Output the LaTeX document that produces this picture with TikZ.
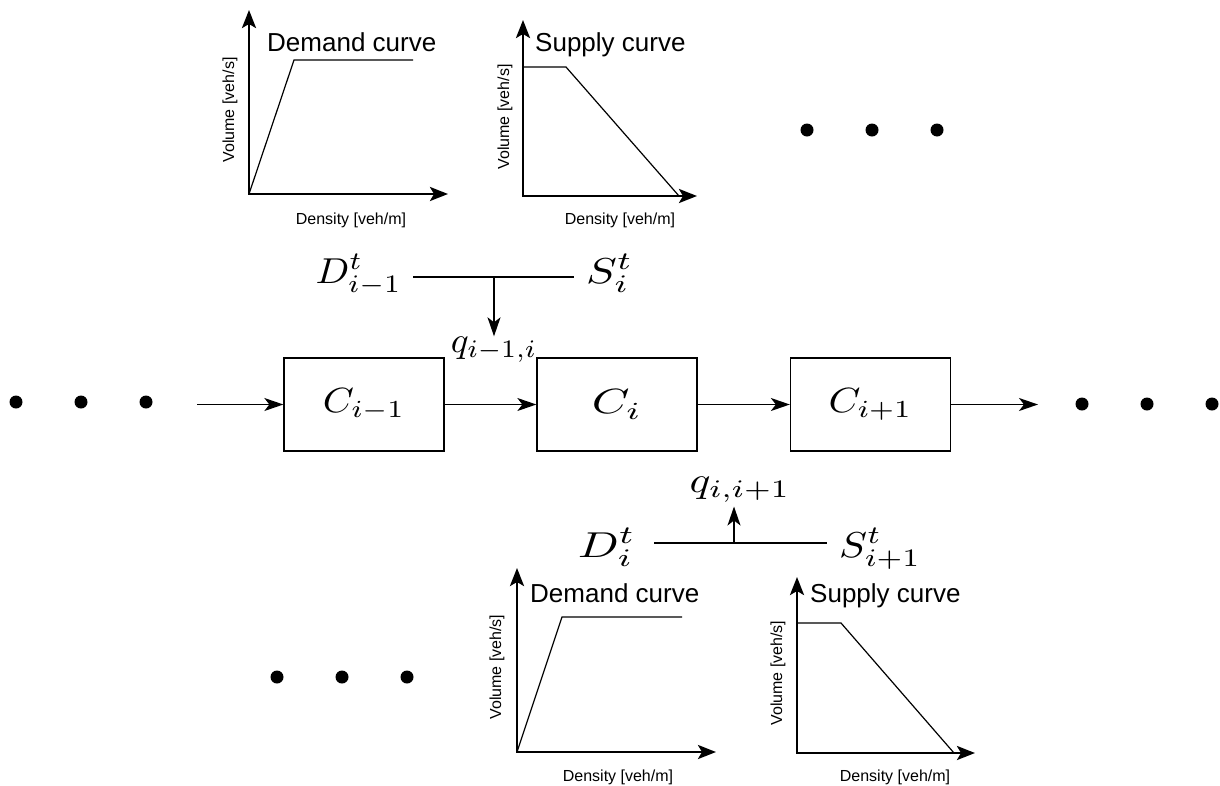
\documentclass[tikz,border=0pt]{standalone}
\usepackage{fontspec}
\setsansfont{Liberation Sans}
\usetikzlibrary{arrows.meta}
\newcommand\bigmath[3]{\scalebox{#1}[#2]{$#3$}}
\begin{document}
\begin{tikzpicture}[x=1pt,y=-1pt,
  cell/.style={draw, line width=1.3pt, minimum width=160pt, minimum height=93pt, inner sep=0pt},
  flow/.style={line width=1.4pt, -{Stealth[length=19pt,width=13pt,inset=5pt]}},
  junc/.style={line width=1.2pt},
  mlab/.style={inner sep=0pt},
  dot/.style={circle, fill=black, minimum size=13pt, inner sep=0pt},
  axis/.style={line width=2.6pt, {Stealth[length=18pt,width=14pt,inset=4pt]}-{Stealth[length=18pt,width=14pt,inset=4pt]}},
  curveline/.style={line width=1.2pt, line join=miter},
  gtitle/.style={inner sep=0pt, anchor=base west, font=\sffamily\fontsize{26}{30}\selectfont},
  glab/.style={inner sep=0pt, font=\sffamily\fontsize{16}{19}\selectfont},
]
\useasboundingbox (0,0) rectangle (1220,785);

% ---------- cells ----------
\node[cell] (c1) at (364,404.5) {\bigmath{3.96}{3.5}{C_{i-1}}};
\node[cell] (c2) at (617,404.5) {\bigmath{4.8}{3.5}{C_{i}}};
\node[cell] (c3) at (870.5,404.5) {\bigmath{4.06}{3.5}{C_{i+1}}};
\coordinate (in) at (197,404.5);
\coordinate (out) at (1038,404.5);
\draw[flow] (in) -- (c1.west);
\draw[flow] (c1.east) -- (c2.west);
\draw[flow] (c2.east) -- (c3.west);
\draw[flow] (c3.east) -- (out);

% ---------- dots ----------
\node[dot] (l1) at (16,402) {};
\node[dot] (l2) at (81,402) {};
\node[dot] (l3) at (146,402) {};
\node[dot] (r1) at (1082,404) {};
\node[dot] (r2) at (1147,404) {};
\node[dot] (r3) at (1212,404) {};
\node[dot] (t1) at (807,130) {};
\node[dot] (t2) at (872,130) {};
\node[dot] (t3) at (937,130) {};
\node[dot] (b1) at (277,677) {};
\node[dot] (b2) at (342,677) {};
\node[dot] (b3) at (407,677) {};

% ---------- upper junction ----------
\node[mlab, anchor=base east] (dup) at (402,283) {\bigmath{3.95}{3.6}{D^t_{i-1}}};
\node[mlab, anchor=base west] (sup) at (586,283) {\bigmath{4.6}{3.6}{S^t_{i}}};
\node[mlab, anchor=base] (qup) at (494,352) {\bigmath{3.72}{3.6}{q_{i-1,i}}};
\coordinate (jul) at (413,277);
\coordinate (jur) at (574,277);
\coordinate (jum) at (494,277);
\draw[junc] (jul) -- (jur);
\draw[flow] (jum) -- (jum |- qup.north);

% ---------- lower junction ----------
\node[mlab, anchor=base east] (dlo) at (636,557) {\bigmath{4.8}{3.6}{D^t_{i}}};
\node[mlab, anchor=base west] (slo) at (839,557) {\bigmath{4.18}{3.6}{S^t_{i+1}}};
\node[mlab, anchor=base] (qlo) at (740,492) {\bigmath{4.36}{3.6}{q_{i,i+1}}};
\coordinate (jll) at (654,543);
\coordinate (jlr) at (827,543);
\coordinate (jlm) at (734,543);
\draw[junc] (jll) -- (jlr);
\draw[flow] (jlm) -- ([yshift=-4pt]jlm |- qlo.south);

% ---------- top demand graph ----------
\draw[axis] (249,10) |- (448,194);
\draw[curveline] (249,194) -- (294,60) -- (413,60);
\node[gtitle] (tdt) at (267,51) {Demand curve};
\node[glab, rotate=90] (tdv) at (230,110) {Volume [veh/s]};
\node[glab] (tdd) at (351,220) {Density [veh/m]};

% ---------- top supply graph ----------
\draw[axis] (523,20) |- (697,196);
\draw[curveline] (523,67) -- (566,67) -- (679,196);
\node[gtitle] (tst) at (535,51) {Supply curve};
\node[glab, rotate=90] (tsv) at (505,117) {Volume [veh/s]};
\node[glab] (tsd) at (620,220) {Density [veh/m]};

% ---------- bottom demand graph ----------
\draw[axis] (517,568) |- (716,752);
\draw[curveline] (517,752) -- (562,617) -- (682,617);
\node[gtitle] (bdt) at (530,602) {Demand curve};
\node[glab, rotate=90] (bdv) at (497,667) {Volume [veh/s]};
\node[glab] (bdd) at (618,777) {Density [veh/m]};

% ---------- bottom supply graph ----------
\draw[axis] (797,577) |- (975,753);
\draw[curveline] (797,623) -- (841,623) -- (954,753);
\node[gtitle] (bst) at (810,602) {Supply curve};
\node[glab, rotate=90] (bsv) at (778,673) {Volume [veh/s]};
\node[glab] (bsd) at (895,777) {Density [veh/m]};
\end{tikzpicture}
\end{document}
